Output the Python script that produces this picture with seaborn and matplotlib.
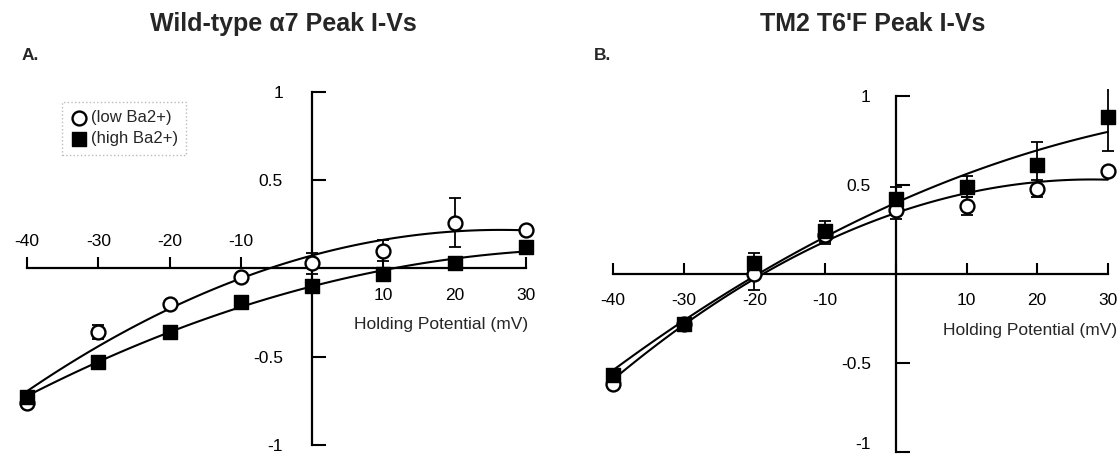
import numpy as np
import pandas as pd
import matplotlib
matplotlib.use('Agg')
import matplotlib.pyplot as plt
import seaborn as sns

# Holding potentials (mV)
voltage = [-40, -30, -20, -10, 0, 10, 20, 30]
xtick_labels = ['-40', '-30', '-20', '-10', '', '10', '20', '30']
yticks = [-1, -0.5, 0.5, 1]
ytick_labels = ['-1', '-0.5', '0.5', '1']

# Panel A: wild-type a7, normalized peak current
wt_low = [-0.76, -0.36, -0.20, -0.05, 0.03, 0.10, 0.26, 0.22]
wt_low_err = [0.0, 0.04, 0.0, 0.0, 0.06, 0.06, 0.14, 0.0]
wt_high = [-0.73, -0.53, -0.36, -0.19, -0.10, -0.03, 0.03, 0.12]
wt_high_err = [0.0, 0.0, 0.0, 0.0, 0.0, 0.0, 0.0, 0.0]

# Panel B: TM2 T6'F mutant
mut_low = [-0.62, -0.28, 0.00, 0.22, 0.36, 0.38, 0.48, 0.58]
mut_low_err = [0.0, 0.0, 0.09, 0.05, 0.05, 0.05, 0.05, 0.0]
mut_high = [-0.57, -0.28, 0.06, 0.24, 0.42, 0.49, 0.61, 0.88]
mut_high_err = [0.0, 0.02, 0.06, 0.06, 0.07, 0.06, 0.13, 0.19]

sns.set_theme(style='white')
plt.rcParams['font.family'] = ['Liberation Sans', 'DejaVu Sans']


def draw_panel(ax, low, low_err, high, high_err, ylim, ypad, neg_labels_top):
    # quadratic fits through each series
    for y in (low, high):
        sns.regplot(x=voltage, y=y, order=2, ci=None, scatter=False, truncate=True,
                    color='black', line_kws=dict(lw=1.5, zorder=2), ax=ax)
    ax.errorbar(voltage, low, yerr=low_err, fmt='none', ecolor='black',
                elinewidth=1.3, capsize=4, capthick=1.3, zorder=3)
    ax.errorbar(voltage, high, yerr=high_err, fmt='none', ecolor='black',
                elinewidth=1.3, capsize=4, capthick=1.3, zorder=3)
    sns.scatterplot(x=voltage, y=low, marker='o', s=100, color='white', edgecolor='black',
                    linewidth=1.7, zorder=4, label='(low Ba2+)', ax=ax, clip_on=False)
    sns.scatterplot(x=voltage, y=high, marker='s', s=88, color='black', edgecolor='black',
                    linewidth=1, zorder=5, label='(high Ba2+)', ax=ax, clip_on=False)

    ax.set_xlim(-42, 31.5)
    ax.set_ylim(*ylim)
    ax.spines['right'].set_visible(False)
    ax.spines['left'].set_position(('data', 0))
    ax.spines['bottom'].set_position(('data', 0))
    ax.spines['top'].set_position(('data', 0))
    ax.spines['top'].set_visible(False)
    ax.spines['left'].set_bounds(-1, 1)
    ax.spines['bottom'].set_bounds(-40, 30)
    for side in ('left', 'bottom'):
        ax.spines[side].set_linewidth(1.6)
        ax.spines[side].set_color('black')

    ax.set_xticks(voltage)
    ax.set_xticklabels(xtick_labels)
    ax.set_yticks(yticks)
    ax.set_yticklabels(ytick_labels)
    ax.tick_params(axis='x', direction='in', length=8, width=1.5, pad=14,
                   labelsize=12.5, bottom=True, top=False, labeltop=neg_labels_top,
                   colors='black')
    ax.tick_params(axis='y', direction='in', length=10, width=1.5, pad=ypad,
                   labelsize=12.5, left=True, colors='black')
    if neg_labels_top:
        for t, v in zip(ax.xaxis.get_major_ticks(), voltage):
            t.label1.set_visible(v > 0)
            t.label2.set_visible(v < 0)
    ax.set_xlabel('')
    ax.set_ylabel('')
    ax.set_facecolor('white')


fig = plt.figure(figsize=(11.18, 4.54), dpi=100)
axA = fig.add_axes([12.7 / 1118, 0.0044, 524.1 / 1118, 367.1 / 454])
axB = fig.add_axes([598.9 / 1118, 0.0004, 519.6 / 1118, 364.9 / 454])

draw_panel(axA, wt_low, wt_low_err, wt_high, wt_high_err, (-1.04, 1.04), 21, True)
draw_panel(axB, mut_low, mut_low_err, mut_high, mut_high_err, (-1.01, 1.04), 18, False)

# keep the bottom "-1" of panel B inside the figure
axB.get_yticklabels()[0].set_verticalalignment('bottom')

axA.text(30.3, -0.32, 'Holding Potential (mV)', ha='right', va='center', fontsize=12.5)
axB.text(31.3, -0.315, 'Holding Potential (mV)', ha='right', va='center', fontsize=12.5)

leg = axA.legend(loc='upper left', bbox_to_anchor=(0.095, 0.953), frameon=True,
                 fancybox=False, edgecolor='#aaaaaa', fontsize=12, borderaxespad=0,
                 handletextpad=0.2, handlelength=1.0, borderpad=0.5, labelspacing=0.35)
leg.get_frame().set_linestyle(':')
leg.get_frame().set_linewidth(1.0)
axB.legend().remove()

fig.text(283 / 1118, 1 - 24 / 454, 'Wild-type α7 Peak I-Vs', ha='center', va='center',
         fontsize=18, fontweight='bold')
fig.text(873 / 1118, 1 - 24 / 454, "TM2 T6'F Peak I-Vs", ha='center', va='center',
         fontsize=18, fontweight='bold')
fig.text(22 / 1118, 1 - 55 / 454, 'A.', ha='left', va='center', fontsize=12.5, fontweight='bold')
fig.text(594 / 1118, 1 - 55 / 454, 'B.', ha='left', va='center', fontsize=12.5, fontweight='bold')

fig.savefig('out.png', dpi=100, facecolor='white')
